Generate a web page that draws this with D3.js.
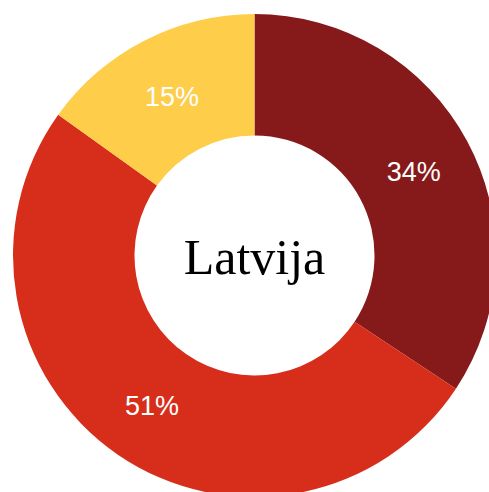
<!DOCTYPE html>
<html>
<head>
<meta charset="utf-8">
<script src="https://cdn.jsdelivr.net/npm/d3@7"></script>
<style>
  html, body { margin: 0; padding: 0; background: #fff; overflow: hidden; }
</style>
</head>
<body>
<div id="chart"></div>
<script>
// Chart data
const categories = ["A", "B", "C"];
const values = [34.3, 50.6, 15.1];
const colors = ["#861a1a", "#d72e1c", "#fecd4a"];
const centerLabel = "Latvija";

const width = 489;
const height = 492;
const cx = 254.5;
const cy = 255.5;
const outerRadius = 241.5;
const innerRadius = 120;

const svg = d3.select("#chart")
    .append("svg")
    .attr("width", width)
    .attr("height", height)
    .append("g")
    .attr("transform", `translate(${cx},${cy})`);

const color = d3.scaleOrdinal()
    .domain(categories)
    .range(colors);

const pie = d3.pie()
    .sort(null)
    .value(d => d.value);

const data_ready = pie(categories.map((c, i) => ({ key: c, value: values[i] })));

const arc = d3.arc()
    .innerRadius(innerRadius)
    .outerRadius(outerRadius);

// Slices
svg.selectAll("path.slice")
    .data(data_ready)
    .enter()
    .append("path")
    .attr("class", "slice")
    .attr("d", arc)
    .attr("fill", d => color(d.data.key));

// Percent labels
const total = d3.sum(values);
svg.selectAll("text.pct")
    .data(data_ready)
    .enter()
    .append("text")
    .attr("class", "pct")
    .text(d => Math.round(d.data.value / total * 100) + "%")
    .attr("transform", d => {
        const [x, y] = arc.centroid(d);
        return `translate(${x},${y + 11})`;
    })
    .attr("text-anchor", "middle")
    .attr("fill", "#fff")
    .style("font-family", "'Liberation Sans', Arial, sans-serif")
    .style("font-size", "27px");

// Center label
svg.append("text")
    .text(centerLabel)
    .attr("x", 0)
    .attr("y", 18)
    .attr("text-anchor", "middle")
    .attr("fill", "#000")
    .style("font-family", "'Liberation Serif', 'Times New Roman', serif")
    .style("font-size", "50px");
</script>
</body>
</html>
